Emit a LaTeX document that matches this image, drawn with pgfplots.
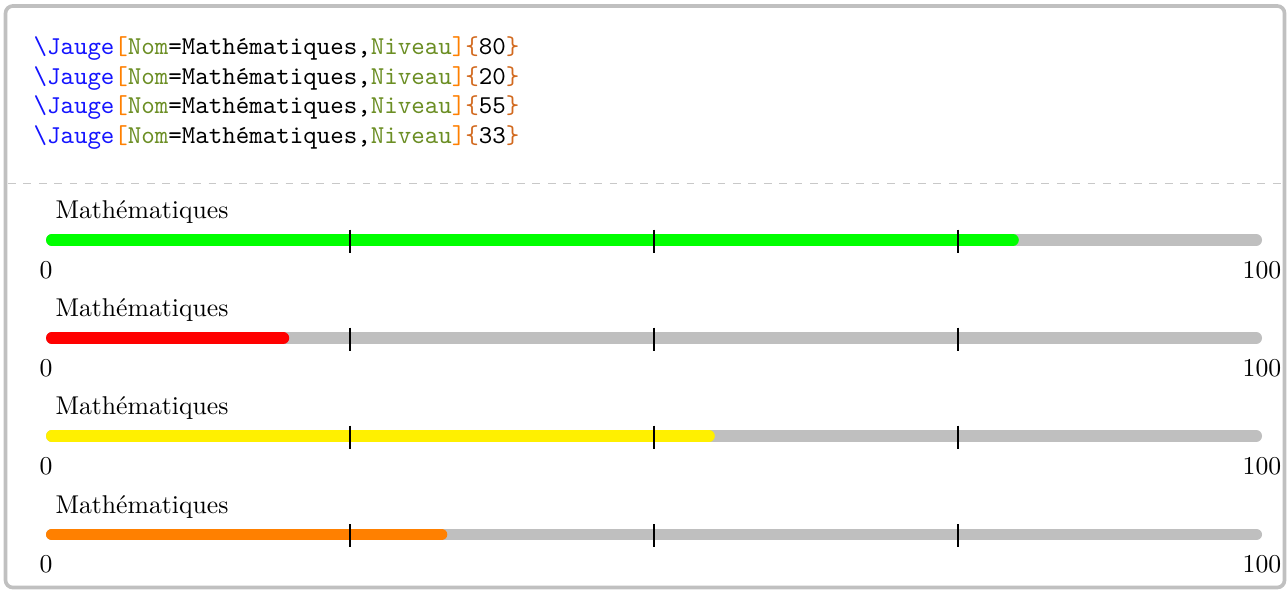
\documentclass[border=0pt]{standalone}
\usepackage{pgfplots}
\pgfplotsset{compat=1.18}
\definecolor{gaugegray}{RGB}{191,191,191}
\definecolor{gaugegreen}{RGB}{0,255,0}
\definecolor{gaugered}{RGB}{255,0,0}
\definecolor{gaugeyellow}{RGB}{255,240,0}
\definecolor{gaugeorange}{RGB}{255,128,0}
\definecolor{framegray}{RGB}{192,192,192}
\definecolor{dashgray}{RGB}{200,200,200}
\definecolor{codeblue}{RGB}{20,20,255}
\definecolor{codeorange}{RGB}{255,128,0}
\definecolor{codeolive}{RGB}{107,142,35}
\definecolor{codebrace}{RGB}{210,105,30}
\newcommand{\codeline}[1]{\textcolor{codeblue}{\textbackslash Jauge}\textcolor{codeorange}{[}\textcolor{codeolive}{Nom}=Mathématiques,\textcolor{codeolive}{Niveau}\textcolor{codeorange}{]}\textcolor{codebrace}{\{}#1\textcolor{codebrace}{\}}}
\tikzset{lab/.style={inner sep=0pt, font=\fontsize{10}{12}\selectfont}}
\begin{document}
\begin{tikzpicture}
\useasboundingbox (0pt,0pt) rectangle (500.643pt,-229.51pt);
\begin{scope}[x=0.389pt,y=-0.389pt]
\draw[framegray, line width=1.42pt, rounded corners=2.85pt, fill=white] (5.5,6) rectangle (1284.5,587.5);
\draw[dashgray, line width=0.5pt, dash pattern=on 3pt off 3pt] (8,183.5) -- (1282,183.5);
\node[anchor=base west, inner sep=0pt, font=\fontsize{10}{12}\selectfont\ttfamily] at (33,55) {\codeline{80}};
\node[anchor=base west, inner sep=0pt, font=\fontsize{10}{12}\selectfont\ttfamily] at (33,84.5) {\codeline{20}};
\node[anchor=base west, inner sep=0pt, font=\fontsize{10}{12}\selectfont\ttfamily] at (33,114) {\codeline{55}};
\node[anchor=base west, inner sep=0pt, font=\fontsize{10}{12}\selectfont\ttfamily] at (33,143.5) {\codeline{33}};
\end{scope}
\begin{axis}[
  at={(17.894pt,-229.51pt)}, anchor=south west,
  width=473.024pt, height=229.51pt, scale only axis,
  xmin=0, xmax=100, ymin=-590, ymax=0,
  hide axis, clip=false,
  gauge/.style={line width=4.55pt, line cap=round, shorten <=2.275pt, shorten >=2.275pt},
  tickl/.style={black, line width=0.45pt, unbounded coords=jump},
]
% row 1 : 80
\addplot[gaugegray, gauge] coordinates {(0,-240) (100,-240)};
\addplot[gaugegreen, gauge] coordinates {(0,-240) (80,-240)};
\addplot[tickl] coordinates {(25,-229.5) (25,-252.7) (25,nan) (50,-229.5) (50,-252.7) (50,nan) (75,-229.5) (75,-252.7)};
\node[lab, anchor=base west] at (axis cs:0.74,-218.5) {Mathématiques};
\node[lab, anchor=base] at (axis cs:0,-278) {0};
\node[lab, anchor=base] at (axis cs:100,-278) {100};
% row 2 : 20
\addplot[gaugegray, gauge] coordinates {(0,-338) (100,-338)};
\addplot[gaugered, gauge] coordinates {(0,-338) (20,-338)};
\addplot[tickl] coordinates {(25,-327.5) (25,-350.7) (25,nan) (50,-327.5) (50,-350.7) (50,nan) (75,-327.5) (75,-350.7)};
\node[lab, anchor=base west] at (axis cs:0.74,-316.5) {Mathématiques};
\node[lab, anchor=base] at (axis cs:0,-376) {0};
\node[lab, anchor=base] at (axis cs:100,-376) {100};
% row 3 : 55
\addplot[gaugegray, gauge] coordinates {(0,-436) (100,-436)};
\addplot[gaugeyellow, gauge] coordinates {(0,-436) (55,-436)};
\addplot[tickl] coordinates {(25,-425.5) (25,-448.7) (25,nan) (50,-425.5) (50,-448.7) (50,nan) (75,-425.5) (75,-448.7)};
\node[lab, anchor=base west] at (axis cs:0.74,-414.5) {Mathématiques};
\node[lab, anchor=base] at (axis cs:0,-474) {0};
\node[lab, anchor=base] at (axis cs:100,-474) {100};
% row 4 : 33
\addplot[gaugegray, gauge] coordinates {(0,-534.5) (100,-534.5)};
\addplot[gaugeorange, gauge] coordinates {(0,-534.5) (33,-534.5)};
\addplot[tickl] coordinates {(25,-524) (25,-547.2) (25,nan) (50,-524) (50,-547.2) (50,nan) (75,-524) (75,-547.2)};
\node[lab, anchor=base west] at (axis cs:0.74,-513) {Mathématiques};
\node[lab, anchor=base] at (axis cs:0,-572.5) {0};
\node[lab, anchor=base] at (axis cs:100,-572.5) {100};
\end{axis}
\end{tikzpicture}
\end{document}
